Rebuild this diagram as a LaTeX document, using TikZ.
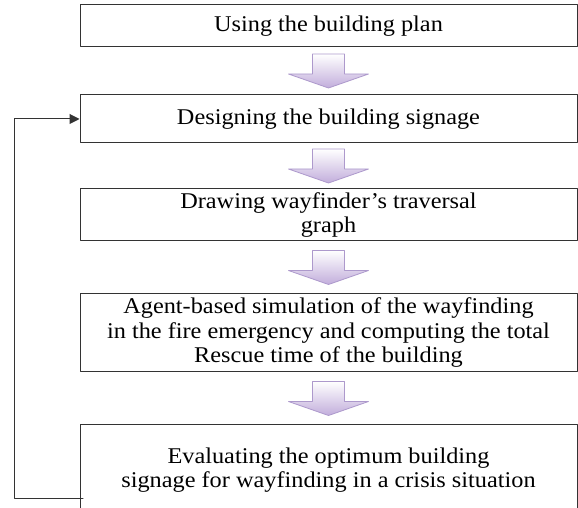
\documentclass[tikz,border=0pt]{standalone}
\usepackage{fontspec}
\setmainfont{Liberation Serif}[FakeStretch=1.08]
\usetikzlibrary{arrows.meta,calc}
\definecolor{boxline}{rgb}{0.2,0.2,0.2}
\definecolor{lavline}{rgb}{0.68,0.6,0.8}
\definecolor{lavfill}{rgb}{0.76,0.68,0.86}

\tikzset{
  stage/.style={draw=boxline,line width=1pt,fill=white,minimum width=497pt,
    inner sep=0pt,align=center,font=\fontsize{22.5}{24.5}\selectfont},
  flow/.pic={
    \shade[draw=lavline,line width=0.8pt,top color=white,bottom color=lavfill]
      (-16,17) -- (16,17) -- (16,-3) -- (40,-3) -- (0,-17) -- (-40,-3) -- (-16,-3) -- cycle;
  }
}

\begin{document}
\begin{tikzpicture}[line cap=round,line join=round,x=1pt,y=1pt]
\useasboundingbox (0,0) rectangle (578,508);
\clip (0,0) rectangle (578,508);
\fill[white] (0,0) rectangle (578,508);
% stages
\node[stage,minimum height=42pt] (plan) at (328.5,482) {Using the building plan};
\node[stage,minimum height=48pt] (sign) at (328.5,389) {Designing the building signage};
\node[stage,minimum height=52pt] (graph) at (328.5,293) {Drawing wayfinder’s traversal\\graph};
\node[stage,minimum height=78pt] (sim) at (328.5,175) {Agent-based simulation of the wayfinding\\in the fire emergency and computing the total\\Rescue time of the building};
\node[stage,minimum height=90pt] (eval) at (328.5,38) {Evaluating the optimum building\\signage for wayfinding in a crisis situation};
% block arrows
\pic at ($(plan.south)!0.5!(sign.north)$) {flow};
\pic at ($(sign.south)!0.5!(graph.north)$) {flow};
\pic at ($(graph.south)!0.5!(sim.north)$) {flow};
\pic at ($(sim.south)!0.5!(eval.north)$) {flow};
% feedback loop
\coordinate (back) at (83,9);
\draw[boxline,line width=1pt,-{Triangle[length=10pt,width=10pt]}] (back) -- (14,9) |- (sign.west);
\end{tikzpicture}
\end{document}
